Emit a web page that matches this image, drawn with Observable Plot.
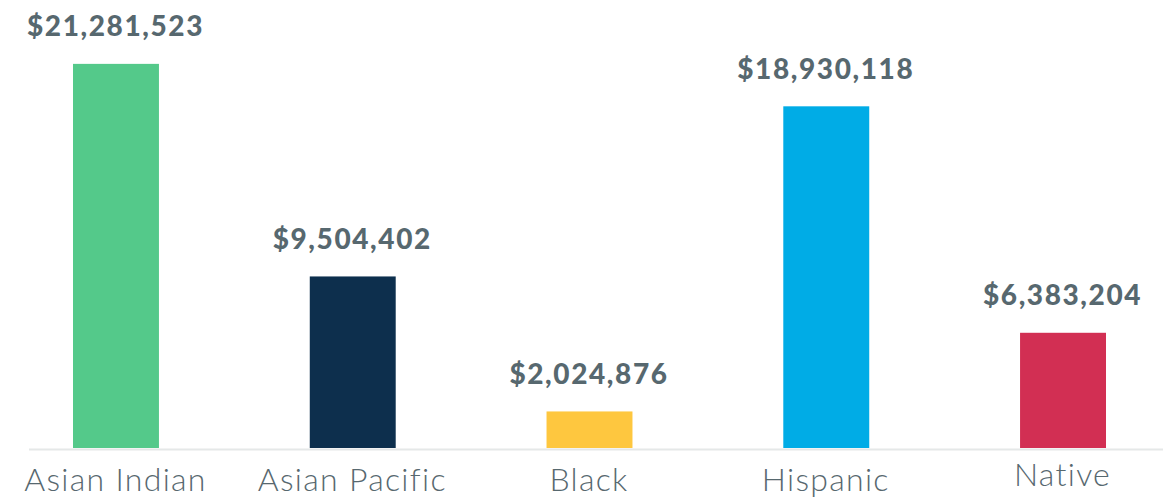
<!DOCTYPE html>
<html>
<head>
<meta charset="utf-8">
<script src="https://cdn.jsdelivr.net/npm/d3@7"></script>
<script src="https://cdn.jsdelivr.net/npm/@observablehq/plot@0.6"></script>
<style>
  html, body { margin: 0; padding: 0; background: #fff; }
  #chart svg { display: block; }
  .vlabel text { letter-spacing: 1.6px; }
  .clabel text { letter-spacing: 1.3px; }
</style>
</head>
<body>
<div id="chart"></div>
<script>
const categories = ["Asian Indian", "Asian Pacific", "Black", "Hispanic", "Native"];
const values = [21281523, 9504402, 2024876, 18930118, 6383204];
const colors = ["#54c98a", "#0d2f4d", "#fec73f", "#00ace6", "#d22f53"];
const valueLabels = ["$21,281,523", "$9,504,402", "$2,024,876", "$18,930,118", "$6,383,204"];

const data = categories.map((c, i) => ({category: c, value: values[i], color: colors[i], label: valueLabels[i]}));
const textColor = "#57686f";

const chart = Plot.plot({
  width: 1163,
  height: 499,
  marginTop: 0,
  marginBottom: 51,
  marginLeft: 0,
  marginRight: 0,
  style: {background: "#fff", overflow: "visible"},
  x: {domain: categories, range: [73, 1106], paddingInner: 0.637, paddingOuter: 0, round: false, axis: null},
  y: {domain: [0, 24.82e6], axis: null},
  marks: [
    Plot.ruleY([0], {stroke: "#e5e8e8", strokeWidth: 2, insetLeft: 29, dy: 1}),
    Plot.barY(data, {x: "category", y: "value", fill: "color"}),
    Plot.text(data, {x: "category", y: "value", text: "label", dy: -28, dx: -1, lineAnchor: "bottom",
      fill: textColor, fontSize: 28, fontWeight: 900, fontFamily: "Lato", className: "vlabel"}),
    Plot.text(data.filter(d => d.category !== "Native"), {x: "category", y: 0, text: "category", dy: 42, dx: -1, lineAnchor: "bottom",
      fill: textColor, fontSize: 32, fontWeight: 300, fontFamily: "Lato", className: "clabel"}),
    Plot.text(data.filter(d => d.category === "Native"), {x: "category", y: 0, text: "category", dy: 37, dx: -1, lineAnchor: "bottom",
      fill: textColor, fontSize: 32, fontWeight: 300, fontFamily: "Lato", className: "clabel"})
  ]
});
document.getElementById("chart").append(chart);
</script>
</body>
</html>
